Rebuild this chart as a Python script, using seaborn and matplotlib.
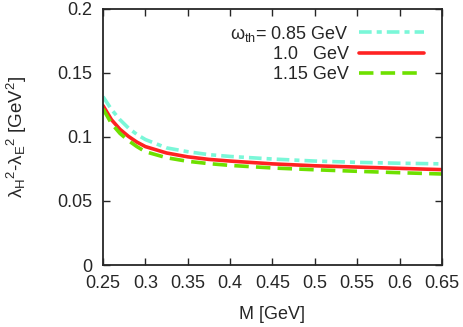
import matplotlib
matplotlib.use("Agg")
import matplotlib.pyplot as plt
import seaborn as sns
import pandas as pd

M = [0.25, 0.26, 0.27, 0.28, 0.29, 0.30, 0.325, 0.35, 0.375, 0.40, 0.45, 0.50, 0.55, 0.60, 0.65]
lam_085 = [0.1315, 0.1215, 0.1135, 0.1070, 0.1020, 0.0980, 0.0915, 0.0885, 0.0862, 0.0848, 0.0828, 0.0812, 0.0802, 0.0795, 0.0790]
lam_100 = [0.1245, 0.1135, 0.1060, 0.1005, 0.0960, 0.0925, 0.0875, 0.0845, 0.0825, 0.0812, 0.0790, 0.0775, 0.0765, 0.0755, 0.0745]
lam_115 = [0.1220, 0.1105, 0.1028, 0.0972, 0.0925, 0.0885, 0.0838, 0.0810, 0.0792, 0.0778, 0.0758, 0.0744, 0.0732, 0.0721, 0.0711]
labels = [r"ω$_{th}$= 0.85 GeV", "1.0   GeV", "1.15 GeV"]
xticks = [0.25, 0.3, 0.35, 0.4, 0.45, 0.5, 0.55, 0.6, 0.65]
yticks = [0, 0.05, 0.1, 0.15, 0.2]

sns.set_style("ticks")
plt.rcParams["font.family"] = ["Liberation Sans", "DejaVu Sans"]
plt.rcParams["mathtext.fontset"] = "custom"
plt.rcParams["mathtext.rm"] = "Liberation Sans"
plt.rcParams["mathtext.it"] = "Liberation Sans"
plt.rcParams["mathtext.default"] = "regular"

fig = plt.figure(figsize=(4.63, 3.27), dpi=100)
ax = fig.add_axes([0.2225, 0.1896, 0.7321, 0.7829])

styles = [
    (lam_085, "#7af7d8", (3.5, 1.4, 1.4, 1.4)),
    (lam_100, "#ff2222", None),
    (lam_115, "#6ee000", (4.0, 2.0)),
]
for (vals, col, dash), lab in zip(styles, labels):
    df = pd.DataFrame({"M": M, "v": vals})
    kw = dict(x="M", y="v", data=df, color=col, lw=2.6, label=lab, ax=ax)
    line = sns.lineplot(**kw).get_lines()[-1]
    if dash is not None:
        line.set_dashes(dash)

ax.set_xlim(0.25, 0.65)
ax.set_ylim(0, 0.2)
ax.set_xticks(xticks)
ax.set_xticklabels([f"{t:g}" for t in xticks])
ax.set_yticks(yticks)
ax.set_yticklabels([f"{t:g}" for t in yticks])
ax.tick_params(direction="in", length=5, width=1.0, labelsize=13, top=True, right=True, pad=7)
ax.tick_params(axis="y", pad=8)
for s in ax.spines.values():
    s.set_linewidth(1.3)
    s.set_visible(True)

ax.set_xlabel("M [GeV]", fontsize=13, labelpad=10)
ax.set_ylabel(r"λ$_{H}{}^{2}$-λ$_{E}{}^{2}$ [GeV$^{2}$]", fontsize=13.5, labelpad=20)

leg = ax.legend(loc="upper right", bbox_to_anchor=(0.98, 0.985), frameon=False, markerfirst=False,
                fontsize=13, handlelength=3.6, labelspacing=0.15, handletextpad=0.6, borderaxespad=0.2)

fig.savefig("out.png", dpi=100)
